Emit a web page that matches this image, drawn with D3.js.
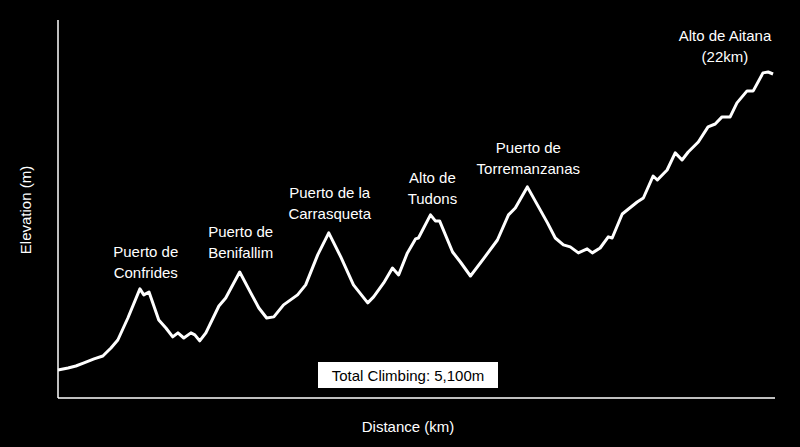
<!DOCTYPE html><html><head><script src="https://cdn.jsdelivr.net/npm/d3@7"></script>
<style>body{margin:0;background:#000}</style></head><body><svg id="c" width="800" height="447"></svg>
<script>
const distance=[0,0.31,0.55,0.80,1.11,1.38,1.63,1.84,2.15,2.52,2.64,2.80,3.10,3.32,3.53,3.69,3.87,4.09,4.21,4.36,4.55,4.95,5.16,5.59,5.93,6.18,6.42,6.64,6.94,7.37,7.62,7.99,8.33,8.70,9.09,9.53,9.71,10.02,10.29,10.48,10.75,11.00,11.09,11.46,11.61,11.74,12.14,12.38,12.69,13.09,13.52,13.86,14.07,14.44,14.75,15.06,15.30,15.55,15.76,16.01,16.28,16.44,16.68,16.93,17.05,17.36,17.82,18.01,18.31,18.44,18.74,18.99,19.20,19.39,19.70,20.00,20.22,20.43,20.68,20.89,21.20,21.39,21.69,21.85,22.00];
const elevation=[126,135,144,158,176,189,225,261,360,491,464,477,351,315,275,293,270,293,284,257,293,414,450,567,473,405,360,365,419,464,509,644,743,635,509,428,455,518,585,554,653,716,720,824,797,797,657,612,549,626,711,824,855,950,869,788,720,689,680,653,671,653,675,725,720,828,882,900,999,981,1026,1103,1071,1107,1152,1220,1233,1265,1265,1328,1382,1382,1463,1467,1458];
const peaks=[["Puerto de","Confrides"],["Puerto de","Benifallim"],["Puerto de la","Carrasqueta"],["Alto de","Tudons"],["Puerto de","Torremanzanas"],["Alto de Aitana","(22km)"]];
const peakKm=[2.70,5.62,8.36,11.52,14.47,20.52];
const peakElev=[635,725,900,968,1103,1607];
const svg=d3.select("#c");
const x=d3.scaleLinear().domain([0,22.06]).range([58,775]);
const y=d3.scaleLinear().domain([0,1701]).range([398,20]);
const F="Liberation Sans, Arial, sans-serif";
svg.append("line").attr("x1",58).attr("x2",58).attr("y1",20).attr("y2",398).attr("stroke","#fff").attr("stroke-width",1.5);
svg.append("line").attr("x1",58).attr("x2",775).attr("y1",398).attr("y2",398).attr("stroke","#fff").attr("stroke-width",1.5);
svg.append("path").datum(distance.map((d,i)=>[d,elevation[i]])).attr("fill","none").attr("stroke","#fff").attr("stroke-width",3).attr("stroke-linejoin","round")
 .attr("d",d3.line().x(d=>x(d[0])).y(d=>y(d[1])));
peaks.forEach((p,i)=>{const t=svg.append("text").attr("fill","#fff").attr("font-family",F).attr("font-size",15).attr("text-anchor","middle");
 p.forEach((l,j)=>t.append("tspan").attr("x",x(peakKm[i])).attr("y",y(peakElev[i])+j*21).text(l));});
svg.append("rect").attr("x",318).attr("y",362).attr("width",180).attr("height",26).attr("fill","#fff");
svg.append("text").attr("x",408).attr("y",381).attr("text-anchor","middle").attr("font-family",F).attr("font-size",15).text("Total Climbing: 5,100m");
svg.append("text").attr("x",408).attr("y",432).attr("text-anchor","middle").attr("fill","#fff").attr("font-family",F).attr("font-size",15).text("Distance (km)");
svg.append("text").attr("transform","translate(31,210) rotate(-90)").attr("text-anchor","middle").attr("fill","#fff").attr("font-family",F).attr("font-size",15).text("Elevation (m)");
</script></body></html>
